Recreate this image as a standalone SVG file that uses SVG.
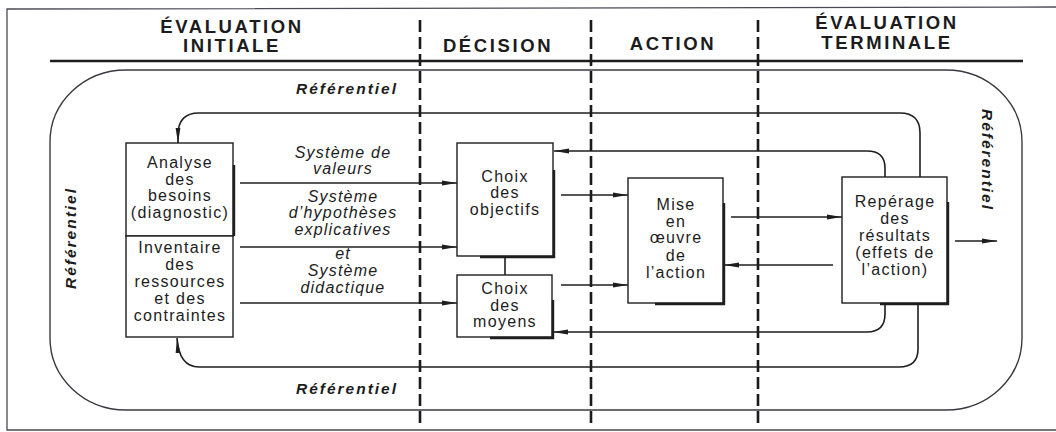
<svg xmlns="http://www.w3.org/2000/svg" width="1056" height="432" viewBox="0 0 1056 432">
  <style>
    .frame { fill: none; stroke: #4a4a55; stroke-width: 1.3; }
    .rule { fill: none; stroke: #1e1e1e; stroke-width: 2.6; }
    .loop { fill: none; stroke: #3a3a44; stroke-width: 1.4; }
    .phase { fill: none; stroke: #1a1a1a; stroke-width: 2.6; stroke-dasharray: 12 5; }
    .box { fill: #fff; stroke: #1e1e1e; stroke-width: 1.4; }
    .shadow { fill: none; stroke: #1e1e1e; stroke-width: 2.4; }
    .link { fill: none; stroke: #1e1e1e; stroke-width: 1.6; }
    .arrow { marker-end: url(#head); }
    .head { font-family: "Liberation Sans", Arial, sans-serif; font-weight: bold; font-size: 18.5px; letter-spacing: 2.6px; fill: #1c1c1c; text-anchor: middle; }
    .node { font-family: "Liberation Sans", Arial, sans-serif; font-size: 16px; letter-spacing: 1.3px; fill: #1c1c1c; text-anchor: middle; }
    .lab { font-family: "Liberation Sans", Arial, sans-serif; font-style: italic; font-size: 16px; letter-spacing: 1.2px; fill: #1c1c1c; text-anchor: middle; }
    .ref { font-family: "Liberation Sans", Arial, sans-serif; font-style: italic; font-weight: bold; font-size: 15.5px; letter-spacing: 2px; fill: #1c1c1c; text-anchor: middle; }
  </style>
  <defs>
    <marker id="head" markerUnits="userSpaceOnUse" markerWidth="15" markerHeight="6" viewBox="0 0 15 6" refX="15" refY="3" orient="auto">
      <path d="M0,0.6 L15,3 L0,5.4 Z" fill="#1e1e1e"/>
    </marker>
  </defs>

  <!-- outer frame and column headings -->
  <g id="frame">
    <path class="frame" d="M1056,7 L7,9 L7,430 L1056,430"/>
    <path class="rule" d="M50,61 H1023"/>
    <path class="phase" d="M420,20 V428 M591,20 V428 M758,20 V428"/>
  </g>

  <g id="headings">
    <text class="head" x="232" y="33">ÉVALUATION</text>
    <text class="head" x="232" y="52">INITIALE</text>
    <text class="head" x="498" y="52">DÉCISION</text>
    <text class="head" x="673" y="50">ACTION</text>
    <text class="head" x="887" y="29">ÉVALUATION</text>
    <text class="head" x="887" y="49">TERMINALE</text>
  </g>

  <!-- reference frame loop around the whole process -->
  <g id="referentiel">
    <rect class="loop" x="50" y="70" width="972" height="340" rx="76" ry="72"/>
    <text class="ref" x="347" y="94">Référentiel</text>
    <text class="ref" x="347" y="394">Référentiel</text>
    <text class="ref" transform="translate(76,238) rotate(-90)">Référentiel</text>
    <text class="ref" transform="translate(982,160) rotate(90)">Référentiel</text>
  </g>

  <!-- connectors -->
  <g id="connectors">
    <path class="link arrow" d="M240,183 H457"/>
    <path class="link arrow" d="M240,247 H457"/>
    <path class="link arrow" d="M240,303 H457"/>
    <path class="link" d="M505,256 V275"/>
    <path class="link arrow" d="M561,195 H628"/>
    <path class="link arrow" d="M561,285 H628"/>
    <path class="link arrow" d="M731,217 H842"/>
    <path class="link arrow" d="M833,265 H724"/>
    <path class="link arrow" d="M885,177 V168 Q885,151 867,151 H554"/>
    <path class="link arrow" d="M920,177 V133 Q920,113 900,113 H199 Q178,113 178,135 V143"/>
    <path class="link arrow" d="M885,304 V314 Q885,332 867,332 H553"/>
    <path class="link arrow" d="M918,304 V349 Q918,367 899,367 H199 Q179,367 177,338"/>
    <path class="link arrow" d="M955,241 H997"/>
  </g>

  <!-- labels on the inputs to the decision -->
  <g id="input-labels">
    <text class="lab" x="343" y="158">Système de</text>
    <text class="lab" x="343" y="174">valeurs</text>
    <text class="lab" x="343" y="202">Système</text>
    <text class="lab" x="343" y="218">d’hypothèses</text>
    <text class="lab" x="343" y="235">explicatives</text>
    <text class="lab" x="343" y="259">et</text>
    <text class="lab" x="343" y="276">Système</text>
    <text class="lab" x="343" y="293">didactique</text>
  </g>

  <g id="analyse-besoins">
    <rect class="box" x="126" y="143" width="107" height="93"/>
    <path class="shadow" d="M234,165 V236"/>
    <text class="node" x="180" y="168">Analyse</text>
    <text class="node" x="180" y="185">des</text>
    <text class="node" x="180" y="201">besoins</text>
    <text class="node" x="180" y="218">(diagnostic)</text>
  </g>

  <g id="inventaire">
    <rect class="box" x="126" y="236" width="107" height="101"/>
    <text class="node" x="180" y="253">Inventaire</text>
    <text class="node" x="180" y="270">des</text>
    <text class="node" x="180" y="287">ressources</text>
    <text class="node" x="180" y="304">et des</text>
    <text class="node" x="180" y="321">contraintes</text>
  </g>

  <g id="choix-objectifs">
    <rect class="box" x="457" y="143" width="96" height="113"/>
    <path class="shadow" d="M554,170 V257 H480"/>
    <text class="node" x="505" y="182">Choix</text>
    <text class="node" x="505" y="198">des</text>
    <text class="node" x="505" y="215">objectifs</text>
  </g>

  <g id="choix-moyens">
    <rect class="box" x="457" y="275" width="95" height="62"/>
    <path class="shadow" d="M553,300 V338 H490"/>
    <text class="node" x="505" y="294">Choix</text>
    <text class="node" x="505" y="311">des</text>
    <text class="node" x="505" y="327">moyens</text>
  </g>

  <g id="mise-en-oeuvre">
    <rect class="box" x="628" y="178" width="95" height="125"/>
    <path class="shadow" d="M724,203 V304 H655"/>
    <text class="node" x="676" y="210">Mise</text>
    <text class="node" x="676" y="227">en</text>
    <text class="node" x="676" y="243">œuvre</text>
    <text class="node" x="676" y="261">de</text>
    <text class="node" x="676" y="278">l’action</text>
  </g>

  <g id="reperage">
    <rect class="box" x="842" y="177" width="105" height="126"/>
    <path class="shadow" d="M948,202 V304 H880"/>
    <text class="node" x="895" y="207">Repérage</text>
    <text class="node" x="895" y="224">des</text>
    <text class="node" x="895" y="241">résultats</text>
    <text class="node" x="895" y="258">(effets de</text>
    <text class="node" x="895" y="275">l’action)</text>
  </g>
</svg>
